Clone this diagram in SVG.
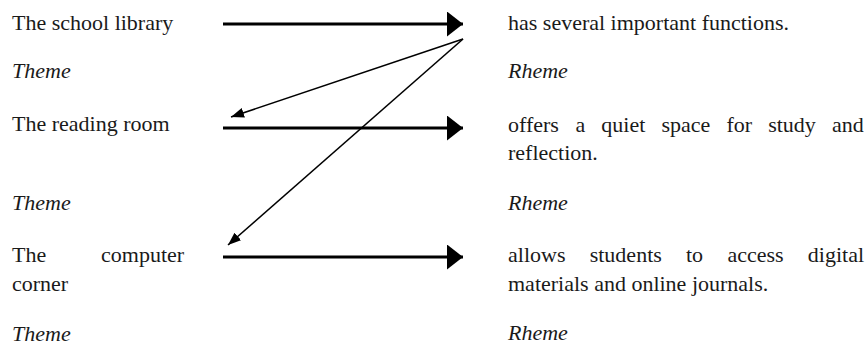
<svg xmlns="http://www.w3.org/2000/svg" width="865" height="345" viewBox="0 0 865 345" font-family="'Liberation Serif', 'Times New Roman', 'DejaVu Serif', serif">
<style>
text{font-family:'Liberation Serif','Times New Roman','DejaVu Serif',serif;font-size:22px;fill:#1a1a1a}
.it{font-style:italic}
.thick{stroke:#000;stroke-width:3;fill:none}
.thin{stroke:#000;stroke-width:1.6;fill:none}
</style>
<defs>
<marker id="big" markerUnits="userSpaceOnUse" markerWidth="17" markerHeight="26" refX="16" refY="12.5" orient="auto">
<path d="M0,0 L16,12.5 L0,25 z" fill="#000"/>
</marker>
<marker id="small" markerUnits="userSpaceOnUse" markerWidth="14" markerHeight="11" refX="13" refY="5" orient="auto">
<path d="M0,0 L13,5 L0,10 z" fill="#000"/>
</marker>
</defs>
<rect width="865" height="345" fill="#fff"/>
<g id="theme1">
<text x="12" y="30">The school library</text>
<text class="it" x="12" y="78">Theme</text>
</g>
<g id="rheme1">
<text x="508" y="30">has several important functions.</text>
<text class="it" x="508" y="78">Rheme</text>
</g>
<g id="theme2">
<text x="12" y="131">The reading room</text>
<text class="it" x="12" y="210">Theme</text>
</g>
<g id="rheme2">
<text y="132"><tspan x="508">offers</tspan><tspan x="575.4">a</tspan><tspan x="601.3">quiet</tspan><tspan x="661.4">space</tspan><tspan x="726.4">for</tspan><tspan x="768.2">study</tspan><tspan x="832">and</tspan></text>
<text x="508" y="160">reflection.</text>
<text class="it" x="508" y="210">Rheme</text>
</g>
<g id="theme3">
<text y="262"><tspan x="12">The</tspan><tspan x="101">computer</tspan></text>
<text x="12" y="291">corner</text>
<text class="it" x="12" y="341">Theme</text>
</g>
<g id="rheme3">
<text y="262"><tspan x="508">allows</tspan><tspan x="589.7">students</tspan><tspan x="686">to</tspan><tspan x="727.4">access</tspan><tspan x="807.8">digital</tspan></text>
<text x="508" y="291">materials and online journals.</text>
<text class="it" x="508" y="340">Rheme</text>
</g>
<g id="connectors">
<line class="thick" x1="223" y1="24" x2="463" y2="24" marker-end="url(#big)"/>
<line class="thick" x1="223" y1="128" x2="463" y2="128" marker-end="url(#big)"/>
<line class="thick" x1="223" y1="257" x2="463" y2="257" marker-end="url(#big)"/>
<line class="thin" x1="463" y1="39" x2="231" y2="117" marker-end="url(#small)"/>
<line class="thin" x1="463" y1="39" x2="228" y2="245" marker-end="url(#small)"/>
</g>
</svg>
